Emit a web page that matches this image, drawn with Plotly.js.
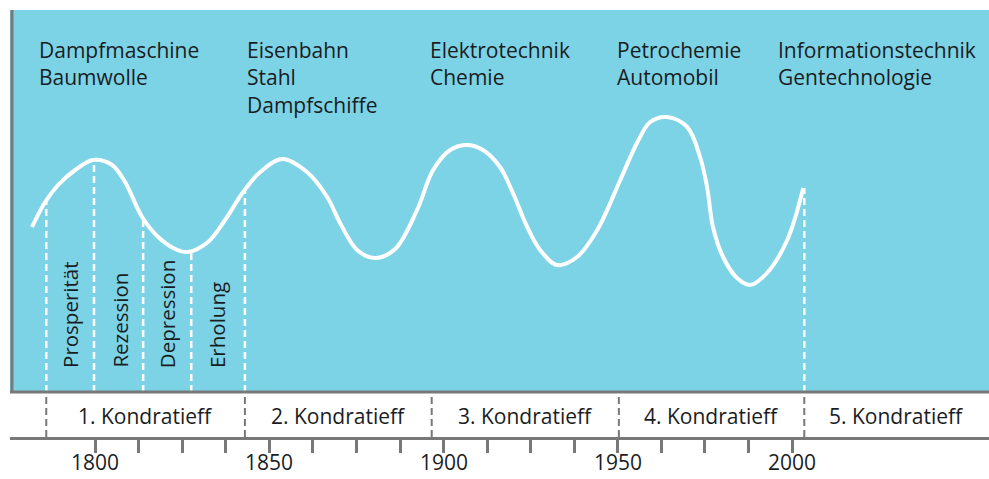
<!DOCTYPE html>
<html>
<head>
<meta charset="utf-8">
<script src="https://cdn.plot.ly/plotly-3.0.1.min.js"></script>
<style>html,body{margin:0;padding:0;background:#fff;}#chart{width:989px;height:479px;}</style>
</head>
<body>
<div id="chart"></div>
<script>
// Wave (year, relative level)
const waveYears = [1781.9,1785.7,1789.4,1794.3,1799.4,1804.9,1808.6,1813.5,1818.1,1823.0,1826.7,1832.4,1837.3,1842.5,1847.4,1853.7,1860.8,1866.6,1870.3,1875.2,1880.3,1886.1,1892.4,1897.0,1901.9,1906.7,1911.3,1916.2,1919.9,1924.0,1927.7,1932.6,1938.3,1944.1,1950.7,1955.5,1959.3,1964.1,1969.9,1973.6,1975.6,1977.3,1980.2,1984.2,1988.0,1992.8,1998.6,2003.2];
const waveLevel = [165,190,207,222,232,227,210,175,155,143,140,150,172,200,220,233,220,195,169,142,134,143,182,222,242,247,242,225,199,165,142,127,135,162,212,249,270,275,265,235,205,165,135,114,107,119,152,204];

// Phase boundaries in the first cycle (+ present)
const phaseYears = [1786, 1799.7, 1813.8, 1827.6, 1843, 2003.5];
const phaseTops = [191, 232, 173, 141, 202, 204];
const phaseNames = ["Prosperität", "Rezession", "Depression", "Erholung"];
const phaseLabelYears = [1792.8, 1806.9, 1820.7, 1835.0];

// Kondratieff cycles
const cycleStarts = [1786, 1843, 1896.6, 1950.3, 2003.5];
const cycleEnd = 2056.5;
const cycleNames = ["1. Kondratieff", "2. Kondratieff", "3. Kondratieff", "4. Kondratieff", "5. Kondratieff"];
const cycleTech = ["Dampfmaschine<br>Baumwolle", "Eisenbahn<br>Stahl<br>Dampfschiffe", "Elektrotechnik<br>Chemie", "Petrochemie<br>Automobil", "Informationstechnik<br>Gentechnologie"];
const techYears = [1783.3, 1843.0, 1895.5, 1949.3, 1995.3];

// Axis ticks
const tickYears = [1800,1812.5,1825,1837.5,1850,1862.5,1875,1887.5,1900,1912.5,1925,1937.5,1950,1962.5,1975,1987.5,2000];
const yearLabels = [1800, 1850, 1900, 1950, 2000];

const FONT = "Open Sans, Noto Sans, sans-serif";
const TXT = "#1a1d1f";
const GRAY = "#787878";
const BLUE = "#7dd3e6";

const traces = [];
// phase dashed white lines
phaseYears.forEach((yr, i) => {
  traces.push({x:[yr, yr], y:[0, phaseTops[i]], mode:"lines", hoverinfo:"skip", showlegend:false,
    line:{color:"#ffffff", width:2.5, dash:"7px,4px"}});
});
// cycle dividers below
cycleStarts.forEach(yr => {
  traces.push({x:[yr, yr], y:[-45, 0], mode:"lines", hoverinfo:"skip", showlegend:false,
    line:{color:GRAY, width:2, dash:"7px,4px"}});
});
// wave
traces.push({x:waveYears, y:waveLevel, mode:"lines", hoverinfo:"skip", showlegend:false,
  line:{color:"#ffffff", width:4, shape:"spline", smoothing:1}});

const annotations = [];
cycleTech.forEach((t, i) => {
  annotations.push({x:techYears[i], y:358, xref:"x", yref:"y", text:t, showarrow:false,
    xanchor:"left", yanchor:"top", align:"left", font:{family:FONT, size:21, color:TXT}});
});
phaseNames.forEach((t, i) => {
  annotations.push({x:phaseLabelYears[i], y:22, xref:"x", yref:"y", text:t, showarrow:false,
    textangle:-90, xanchor:"center", yanchor:"bottom", font:{family:FONT, size:20.5, color:TXT}});
});
cycleNames.forEach((t, i) => {
  const a = cycleStarts[i], b = i < cycleStarts.length - 1 ? cycleStarts[i+1] : cycleEnd;
  annotations.push({x:(a+b)/2, y:-24, xref:"x", yref:"y", text:t, showarrow:false,
    xanchor:"center", yanchor:"middle", font:{family:FONT, size:21, color:TXT}});
});
yearLabels.forEach(yr => {
  annotations.push({x:yr, y:-41/427, xref:"x", yref:"paper", text:String(yr), showarrow:false,
    xanchor:"center", yanchor:"bottom", font:{family:FONT, size:21, color:TXT}});
});

const layout = {
  width:989, height:479,
  margin:{l:10, r:0, t:10, b:42, pad:0},
  paper_bgcolor:"#ffffff", plot_bgcolor:"#ffffff",
  showlegend:false,
  xaxis:{range:[1775.6, 2056.5], showgrid:false, zeroline:false, showline:true, linecolor:GRAY, linewidth:3,
    ticks:"outside", ticklen:13, tickwidth:3, tickcolor:GRAY, tickmode:"array", tickvals:tickYears,
    showticklabels:false, fixedrange:true},
  yaxis:{range:[-45, 382], visible:false, fixedrange:true},
  shapes:[
    {type:"rect", xref:"paper", yref:"y", x0:0, x1:1, y0:0, y1:382, fillcolor:BLUE, line:{width:0}, layer:"below"},
    {type:"line", xref:"paper", yref:"y", x0:0, x1:1, y0:0, y1:0, line:{color:GRAY, width:3}, layer:"above"},
    {type:"line", xref:"paper", yref:"y", x0:0.002, x1:0.002, y0:0, y1:382, line:{color:GRAY, width:3}, layer:"above"}
  ],
  annotations:annotations
};

Plotly.newPlot("chart", traces, layout, {displayModeBar:false, staticPlot:true});
</script>
</body>
</html>
